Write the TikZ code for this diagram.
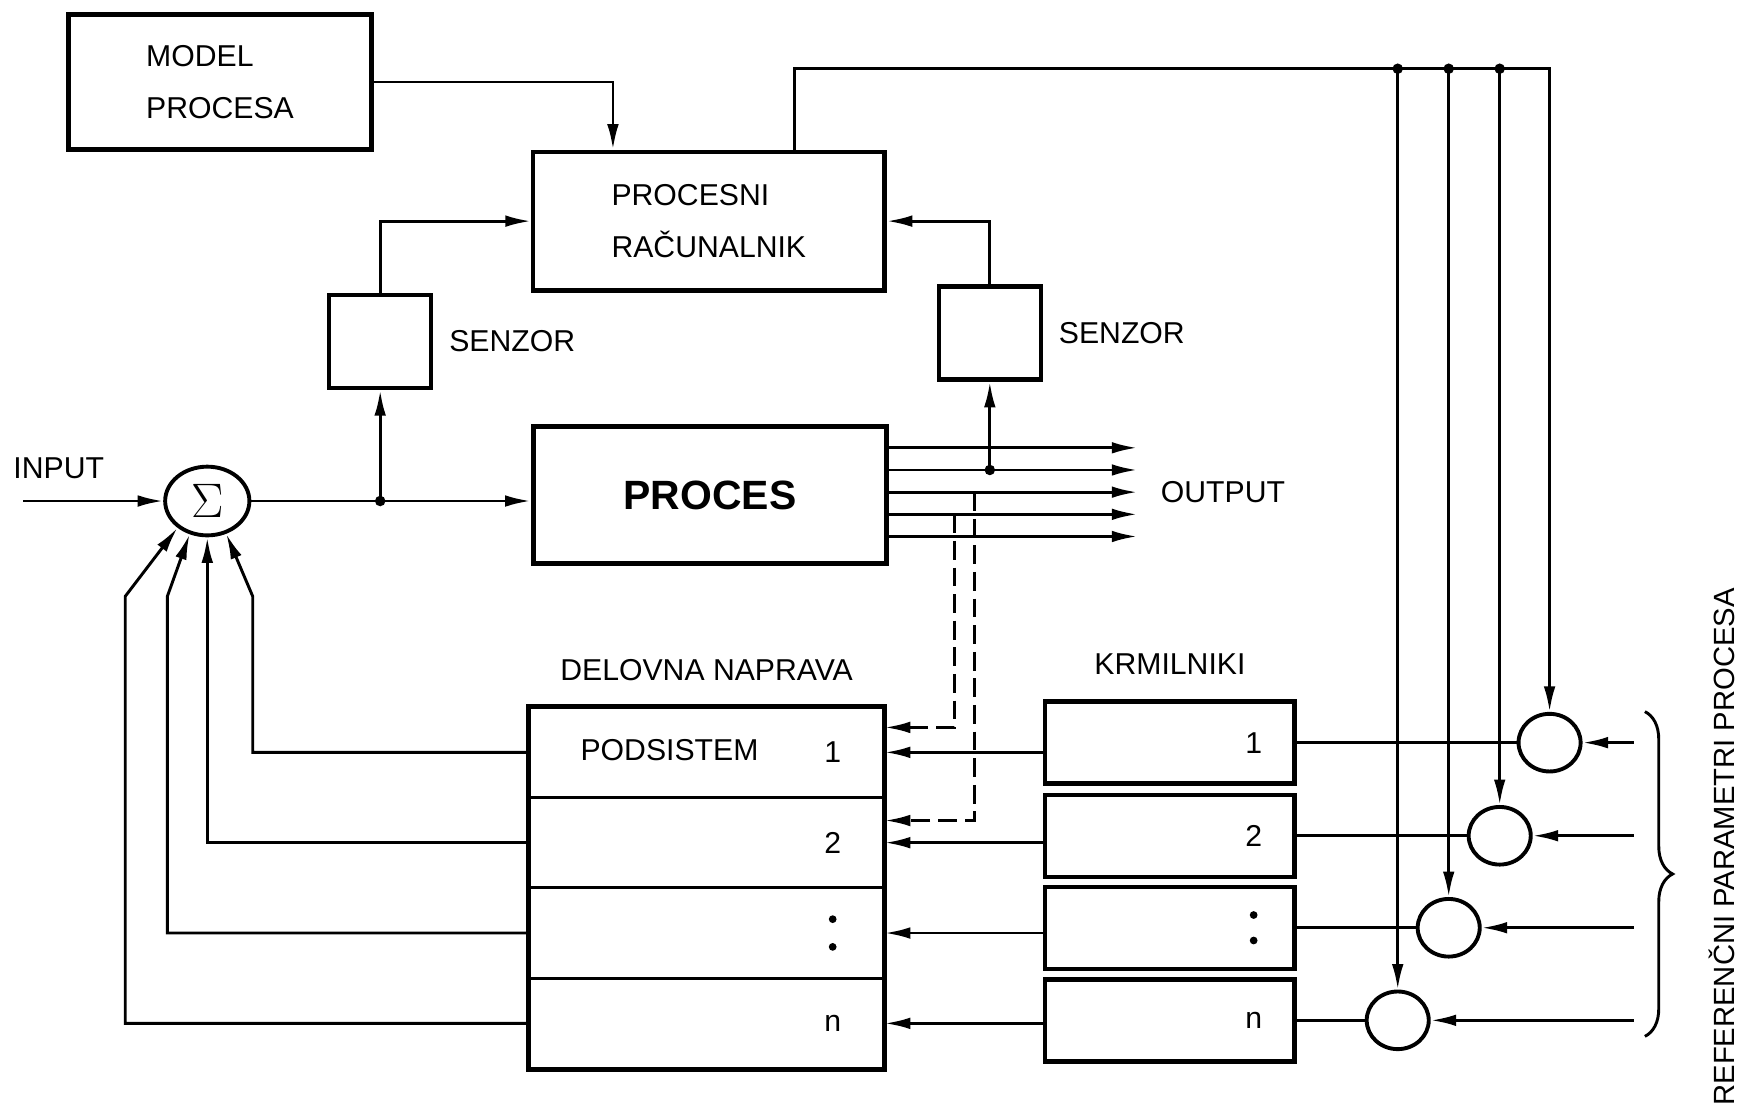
\documentclass[tikz,border=0pt]{standalone}
\usepackage[no-math]{fontspec}
\setmainfont{Liberation Sans}
\usetikzlibrary{arrows.meta,positioning,shapes.geometric,decorations.pathreplacing}

\begin{document}
\begin{tikzpicture}[x=0.2mm,y=-0.2mm,>={Latex[length=4.6mm,width=2.1mm]},
every node/.style={font=\fontsize{15.5}{26.5}\selectfont},
bx/.style={draw,line width=2.3pt,inner sep=0},
sz/.style={bx,minimum width=18.4mm,minimum height=16.8mm},
ln/.style={line width=1.5pt},
dsh/.style={ln,->,dash pattern=on 3.4mm off 1.4mm},
dot/.style={circle,fill,inner sep=0,minimum size=1.9mm},
cmp/.style={ellipse,draw,line width=2pt,minimum width=11.2mm,minimum height=10.4mm,inner sep=0},
lbl/.style={inner sep=0}]
\useasboundingbox (0,0) rectangle (1568,1004);
% upper blocks
\node[bx,minimum width=54.6mm,minimum height=24.4mm,align=left] (mp) at (198.5,74) {MODEL\\PROCESA};
\node[bx,minimum width=63.4mm,minimum height=25mm,align=left] (pr) at (639.5,199.5) {PROCESNI\\RAČUNALNIK};
\node[bx,line width=2.6pt,minimum width=63.8mm,minimum height=24.6mm,font=\bfseries\fontsize{21}{25}\selectfont] (pc) at (640.5,446.5) {PROCES};
\node[sz] (s1) at (343,308) {}; \node[sz] (s2) at (893,300.5) {};
\node[lbl,right=2.8mm of s1] (sl1) {SENZOR}; \node[lbl,right=2.8mm of s2] (sl2) {SENZOR};
\node[cmp,minimum width=15.2mm,minimum height=12.4mm] (sum) at (187,452) {\fontsize{29.86}{30}\selectfont$\Sigma$};
% lower blocks
\foreach \i/\y in {1/678.75,2/760.25,3/841.75,4/923.25}
\node[draw,line width=1.4pt,minimum width=63.8mm,minimum height=16.3mm,inner sep=0] (d\i) at (637.5,\y) {};
\draw[line width=2.3pt] (d1.north west) rectangle (d4.south east);
\foreach \i/\y in {1/670,2/754,3/837,4/920.5}
\node[bx,minimum width=45mm,minimum height=14.8mm] (k\i) at (1055.5,\y) {};
\foreach \i/\x/\y in {1/1398/670,2/1353/754,3/1307/837,4/1261/920.5}
\node[cmp] (c\i) at (\x,\y) {};
\node[lbl,above=4.4mm of d1] (dl) {DELOVNA NAPRAVA};
\node[lbl,above=4.4mm of k1] (kl) {KRMILNIKI};
\node (pod) at (604,677) {PODSISTEM};
\foreach \i/\t in {1/1,2/2,4/n}{\node (dn\i) at ([xshift=-9.4mm]d\i.east) {\t};
\node (kn\i) at ([xshift=-7.8mm]k\i.east) {\t};}
\fill ([xshift=-9.4mm,yshift=2.5mm]d3.east) circle (0.7mm) ([xshift=-9.4mm,yshift=-2.5mm]d3.east) circle (0.7mm);
\fill ([xshift=-7.8mm,yshift=2.3mm]k3.east) circle (0.7mm) ([xshift=-7.8mm,yshift=-2.3mm]k3.east) circle (0.7mm);
% top connections
\coordinate (mk) at (553,0); \coordinate (bt) at (717,62);
\draw[ln,->] (mp.east) -| (mk |- pr.north);
\draw[ln,->] (bt |- pr.north) -- (bt) -| (c1.north);
\foreach \i in {2,3,4}{\node[dot] (j\i) at (c\i.north |- bt) {};
\draw[ln,->] (j\i.center) -- (c\i.north);}
\draw[ln,->] (s1.north) |- (pr.west);
\draw[ln,->] (s2.north) |- (pr.east);
% input, process, outputs
\coordinate (inp) at (21,452);
\node (inl) at (53,422) {INPUT};
\draw[ln,->] (inp) -- (sum.west);
\draw[ln,->] (sum.east) -- (sum.east -| pc.west);
\node[dot] (j0) at (s1.south |- sum.east) {};
\draw[ln,->] (j0.center) -- (s1.south);
\foreach \i/\y in {1/404,2/424,3/444,4/464,5/484}{\coordinate (o\i) at (1026,\y);
\draw[ln,->] (pc.east |- o\i) -- (o\i);}
\node[lbl,right=4.2mm of o3] (out) {OUTPUT};
\node[dot] (j1) at (s2.south |- o2) {};
\draw[ln,->] (j1.center) -- (s2.south);
\coordinate (da) at (861,0); \coordinate (db) at (879,0);
\draw[dsh] (da |- o4) |- ([yshift=4.5mm]d1.east);
\draw[dsh] (db |- o3) |- ([yshift=4mm]d2.east);
% controllers and comparators
\coordinate (ref) at (1474,0);
\foreach \i in {1,...,4}{\draw[ln,->] (k\i.west |- d\i.east) -- (d\i.east);
\draw[ln] (c\i.west) -- (c\i.west -| k\i.east);
\draw[ln,->] (ref |- c\i.east) -- (c\i.east);}
% feedback to sum
\draw[ln,->] (d1.west) -| (228,538) -- (sum.-60);
\draw[ln,->] (d2.west) -| (sum.south);
\draw[ln,->] (d3.west) -| (151,538) -- (sum.-118);
\draw[ln,->] (d4.west) -| (113,538) -- (sum.-138);
\draw[line width=1.5pt,decorate,decoration={brace,amplitude=5mm}] (1484,642) -- (1484,935);
\node[rotate=90,font=\fontsize{15}{18}\selectfont] (rp) at (1553,764) {REFERENČNI PARAMETRI PROCESA};
\end{tikzpicture}
\end{document}
